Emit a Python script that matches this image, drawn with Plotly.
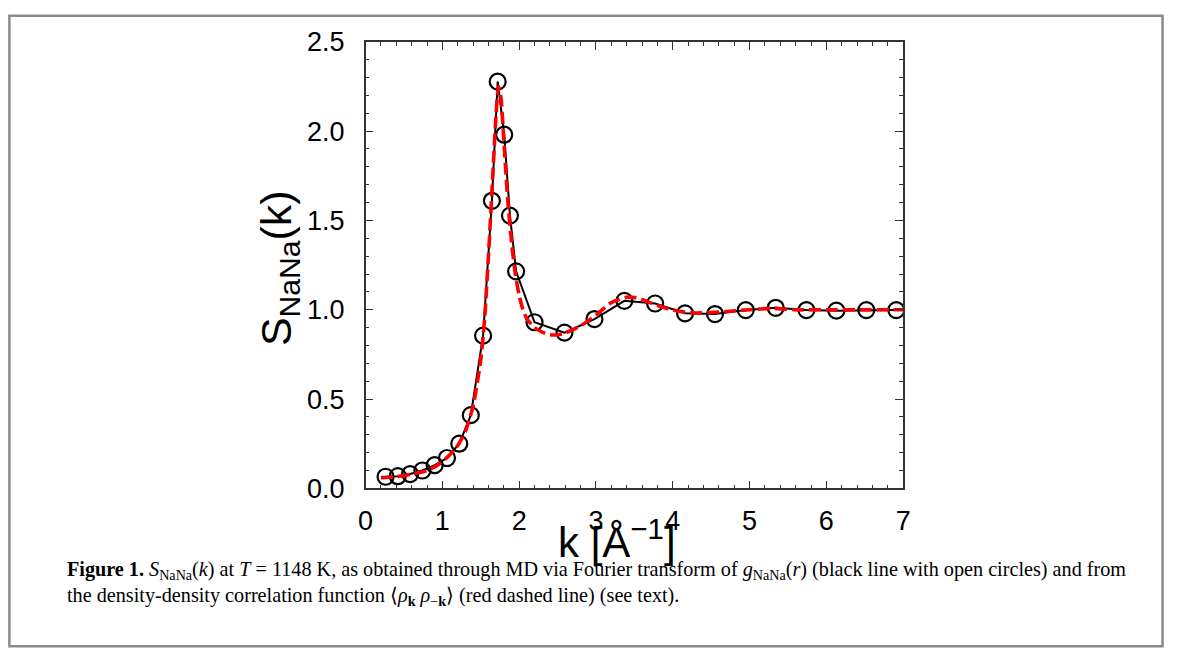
import plotly.graph_objects as go

# ---- data ----
k_md = [0.26, 0.42, 0.58, 0.74, 0.90, 1.06, 1.22, 1.37, 1.53, 1.645, 1.72, 1.805, 1.88,
        1.96, 2.20, 2.59, 2.98, 3.37, 3.77, 4.16, 4.55, 4.95, 5.34, 5.74, 6.13, 6.52, 6.91]
s_md = [0.065, 0.068, 0.080, 0.100, 0.130, 0.170, 0.250, 0.410, 0.855, 1.610, 2.277, 1.980, 1.527,
        1.215, 0.930, 0.872, 0.948, 1.050, 1.035, 0.980, 0.976, 0.998, 1.011, 0.998, 0.995, 0.998, 0.998]

k_rho = [0.20, 0.40, 0.60, 0.80, 0.90, 1.00, 1.10, 1.20, 1.30, 1.40, 1.50, 1.55, 1.60, 1.65, 1.70,
         1.73, 1.76, 1.80, 1.85, 1.90, 1.95, 2.00, 2.05, 2.10, 2.20, 2.30, 2.40, 2.50, 2.60, 2.80,
         3.00, 3.20, 3.40, 3.55, 3.70, 3.90, 4.10, 4.30, 4.50, 4.70, 5.00, 5.30, 5.60, 6.00, 6.50, 7.00]
s_rho = [0.060, 0.065, 0.080, 0.100, 0.120, 0.150, 0.190, 0.240, 0.320, 0.460, 0.720, 0.950, 1.300,
         1.700, 2.100, 2.250, 2.200, 1.950, 1.620, 1.380, 1.200, 1.080, 1.000, 0.950, 0.900, 0.875,
         0.860, 0.860, 0.870, 0.910, 0.970, 1.040, 1.070, 1.065, 1.040, 1.010, 0.990, 0.982, 0.985,
         0.990, 1.000, 1.008, 1.000, 1.000, 1.000, 1.000]

x_ticks = [0, 1, 2, 3, 4, 5, 6, 7]
y_ticks = [0.0, 0.5, 1.0, 1.5, 2.0, 2.5]

# figure size and observed picture transform (picture = scale * fig + offset), body margin removed
W, H = 1181, 662
SX, SY = 0.989, 0.961
OX, OY = 6.5, 13.0


def px(x):
    return (x - OX) / (SX * W)


def py(y):
    return 1 - (y - OY) / (SY * H)


def clip(v):
    return min(max(v, 0.0012), 0.9988)


fig = go.Figure()
fig.add_trace(go.Scatter(
    x=k_md, y=s_md, mode="lines+markers",
    line=dict(color="black", width=2),
    marker=dict(symbol="circle-open", size=16, color="black", line=dict(width=2.2, color="black")),
    showlegend=False))
fig.add_trace(go.Scatter(
    x=k_rho, y=s_rho, mode="lines",
    line=dict(color="#ff0000", width=3.6, dash="12px,5px", shape="spline", smoothing=0.6),
    showlegend=False))

axis_common = dict(
    showgrid=False, zeroline=False, showline=True, linecolor="#333333", linewidth=1.5,
    mirror="ticks", ticks="inside", ticklen=8, tickwidth=1.3, tickcolor="#333333",
    tickfont=dict(family="Liberation Sans, Arial, sans-serif", size=27, color="black"),
)

fig.update_layout(
    width=W, height=H,
    margin=dict(l=0, r=0, t=0, b=0),
    paper_bgcolor="white", plot_bgcolor="white",
    xaxis=dict(domain=[px(365), px(904)], range=[0, 7], tickvals=x_ticks,
               ticktext=[str(v) for v in x_ticks],
               minor=dict(dtick=0.2, ticks="inside", ticklen=4, tickwidth=1.1, tickcolor="#333333"),
               ticklabelstandoff=7, **axis_common),
    yaxis=dict(domain=[py(489.5), py(40)], range=[0, 2.5], tickvals=y_ticks,
               ticktext=["%.1f" % v for v in y_ticks],
               minor=dict(dtick=0.1, ticks="inside", ticklen=4, tickwidth=1.1, tickcolor="#333333"),
               ticklabelstandoff=14, **axis_common),
    shapes=[dict(type="rect", xref="paper", yref="paper",
                 x0=clip(px(7.5)), x1=clip(px(1164)),
                 y0=clip(py(660.5)), y1=clip(py(3.5)),
                 line=dict(color="#8a8a8a", width=2.5))],
)

sans = "Liberation Sans, Arial, sans-serif"
serif = "Liberation Serif, Times New Roman, serif"

fig.add_annotation(xref="paper", yref="paper", x=px(279), y=py(268),
                   text="S<sub>NaNa</sub>(k)", textangle=-90, showarrow=False,
                   xanchor="center", yanchor="middle",
                   font=dict(family=sans, size=43, color="black"))
fig.add_annotation(xref="paper", yref="paper", x=px(617), y=py(540),
                   text="k [Å<sup>−1</sup>]", showarrow=False,
                   xanchor="center", yanchor="middle",
                   font=dict(family=sans, size=42, color="black"))

cap1 = ("<b>Figure 1.</b> <i>S</i><sub>NaNa</sub>(<i>k</i>) at <i>T</i> = 1148 K, as obtained through MD via "
        "Fourier transform of <i>g</i><sub>NaNa</sub>(<i>r</i>) (black line with open circles) and from")
cap2 = ("the density-density correlation function ⟨<i>ρ</i><sub><b>k</b></sub> <i>ρ</i><sub>−<b>k</b></sub>⟩ "
        "(red dashed line) (see text).")
fig.add_annotation(xref="paper", yref="paper", x=px(64), y=py(572), text=cap1, showarrow=False,
                   xanchor="left", yanchor="middle", font=dict(family=serif, size=20.2, color="black"))
fig.add_annotation(xref="paper", yref="paper", x=px(64), y=py(598), text=cap2, showarrow=False,
                   xanchor="left", yanchor="middle", font=dict(family=serif, size=20.2, color="black"))

fig.write_html("out.html", config={"displayModeBar": False},
               post_script="document.body.style.margin='0';")
